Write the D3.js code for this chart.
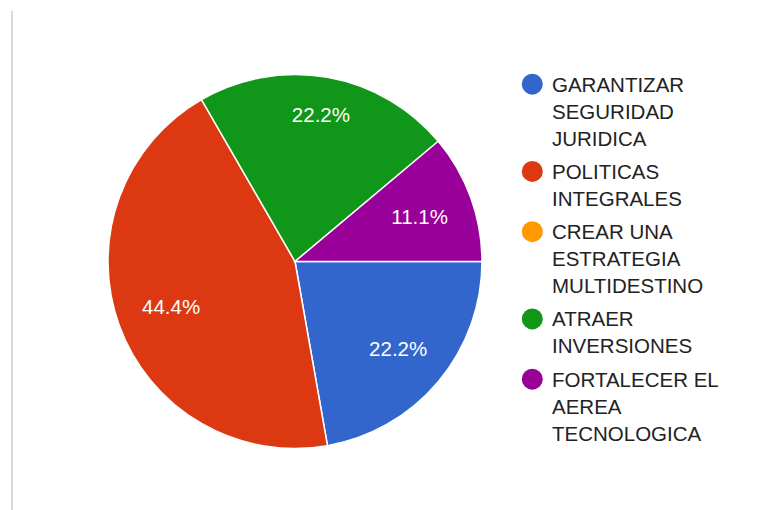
<!DOCTYPE html>
<html><head><meta charset="utf-8">
<script src="https://cdn.jsdelivr.net/npm/d3@7"></script>
<style>html,body{margin:0;padding:0;background:#fff;}svg{display:block;}</style>
</head><body>
<svg id="chart" width="781" height="510"></svg>
<script>
const categories = ["GARANTIZAR SEGURIDAD JURIDICA", "POLITICAS INTEGRALES", "CREAR UNA ESTRATEGIA MULTIDESTINO", "ATRAER INVERSIONES", "FORTALECER EL AEREA TECNOLOGICA"];
const values = [2, 4, 0, 2, 1];
const colors = ["#3366cc", "#dc3912", "#ff9900", "#109618", "#990099"];

const svg = d3.select("#chart");
const W = 781, H = 510;
const font = "'Liberation Sans', Arial, sans-serif";

// left border line
svg.append("line").attr("x1", 12).attr("x2", 12).attr("y1", 11).attr("y2", 510)
  .attr("stroke", "#dadada").attr("stroke-width", 2);

const cx = 295, cy = 261.5, r = 187;
const total = d3.sum(values);
const pie = d3.pie().value(d => d).sort(null)
  .startAngle(Math.PI / 2).endAngle(Math.PI / 2 + 2 * Math.PI);
const arcs = pie(values);
const arc = d3.arc().innerRadius(0).outerRadius(r);
const g = svg.append("g").attr("transform", `translate(${cx},${cy})`);
g.selectAll("path").data(arcs.filter(a => a.data > 0)).join("path")
  .attr("d", arc)
  .attr("fill", (d) => colors[d.index])
  .attr("stroke", "#fff").attr("stroke-width", 1.5);

// labels
const fs = 20.5;
const fmt = v => (Math.round(v / total * 1000) / 10).toFixed(1) + "%";
arcs.filter(a => a.data > 0).forEach(a => {
  const mid = (a.startAngle + a.endAngle) / 2;
  const sx = Math.sin(mid), sy = -Math.cos(mid);
  const txt = g.append("text").text(fmt(a.data))
    .attr("font-family", font).attr("font-size", fs).attr("fill", "#fff")
    .attr("text-anchor", "middle");
  const w = txt.node().getComputedTextLength();
  const hw = w / 2, hh = 7.5;
  const ext = Math.abs(sx) * hw + Math.abs(sy) * hh;
  const d = 0.865 * r - ext;
  txt.attr("x", sx * d).attr("y", sy * d + hh);
});

// legend
const lx = 552, circleX = 532.3, cr = 10.5;
const lineH = 26.9, entryGap = 33.4, maxW = 180;
let y = 91.7;
const leg = svg.append("g");
categories.forEach((c, i) => {
  const words = c.split(" ");
  const lines = [];
  let cur = "";
  const meas = leg.append("text").attr("font-family", font).attr("font-size", fs);
  words.forEach(wd => {
    const test = cur ? cur + " " + wd : wd;
    meas.text(test);
    if (cur && meas.node().getComputedTextLength() > maxW) { lines.push(cur); cur = wd; }
    else cur = test;
  });
  lines.push(cur);
  meas.remove();
  leg.append("circle").attr("cx", circleX).attr("cy", y - 7.5).attr("r", cr).attr("fill", colors[i]);
  lines.forEach((ln, k) => {
    leg.append("text").attr("x", lx).attr("y", y + k * lineH)
      .attr("font-family", font).attr("font-size", fs).attr("fill", "#222").text(ln);
  });
  y += (lines.length - 1) * lineH + entryGap;
});
</script>
</body></html>
